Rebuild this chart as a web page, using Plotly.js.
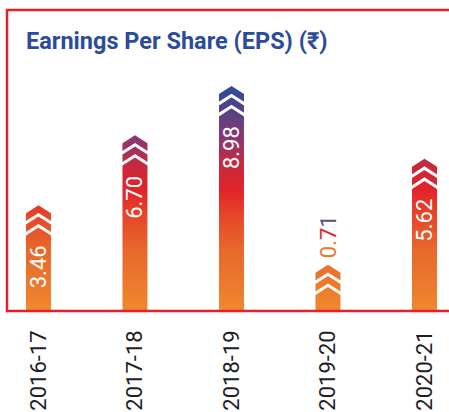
<!DOCTYPE html>
<html>
<head>
<meta charset="utf-8">
<script src="https://cdn.plot.ly/plotly-3.0.1.min.js"></script>
<style>
  html, body { margin: 0; padding: 0; background: #ffffff; }
  #chart { width: 449px; height: 412px; }
</style>
</head>
<body>
<div id="chart"></div>
<script>
// ---- data ----
const categories = ['2016-17', '2017-18', '2018-19', '2019-20', '2020-21'];
const eps = [3.46, 6.70, 8.98, 0.71, 5.62];
const valueLabels = ['3.46', '6.70', '8.98', '0.71', '5.62'];
const titleText = 'Earnings Per Share (EPS) (₹)';

// ---- geometry / style ----
const W = 449, H = 412;
const MARGIN = { l: 7, r: 0, t: 10, b: 101 };
const X_RANGE = [-0.326, 4.254];
const Y_RANGE = [0, 13.94];
const PLOT_W = W - MARGIN.l - MARGIN.r;
const PLOT_H = H - MARGIN.t - MARGIN.b;
const pxX = PLOT_W / (X_RANGE[1] - X_RANGE[0]);
const pxY = PLOT_H / (Y_RANGE[1] - Y_RANGE[0]);

const BAR_HALF_PX = 12.5;   // half bar width in px
const CAP_PX = 31;          // arrow cap height above bar body
const TIP_PX = 8;           // height of pointed tip
const STRIPES_PX = [21.5, 10.5]; // white chevron apex heights above body top
const STRIPE_W = 3;
const EXT_PX = 2;

const gradScale = [
  [0.000, '#EF8A2F'],
  [0.093, '#EC7C2D'],
  [0.270, '#E8682C'],
  [0.424, '#E5462A'],
  [0.535, '#E3232A'],
  [0.646, '#C72A3D'],
  [0.755, '#8F3570'],
  [0.845, '#64407F'],
  [1.000, '#2A4B9D']
];
const GRAD_STOP = 10.46;

// ---- build bar shapes (body + arrow cap) ----
const hw = BAR_HALF_PX / pxX;
const bx = [], by = [];
eps.forEach((v, i) => {
  const sh = v + (CAP_PX - TIP_PX) / pxY;
  const tip = v + CAP_PX / pxY;
  bx.push(i - hw, i - hw, i, i + hw, i + hw, i - hw, null);
  by.push(0, sh, tip, sh, 0, 0, null);
});

// ---- white chevron stripes ----
const slope = TIP_PX / BAR_HALF_PX;
const sx = [], sy = [];
eps.forEach((v, i) => {
  STRIPES_PX.forEach(a => {
    const half = BAR_HALF_PX + EXT_PX;
    const edge = a - slope * half;
    sx.push(i - half / pxX, i, i + half / pxX, null);
    sy.push(v + edge / pxY, v + a / pxY, v + edge / pxY, null);
  });
});

const traces = [
  {
    type: 'scatter', mode: 'lines', x: bx, y: by,
    fill: 'toself',
    fillgradient: { type: 'vertical', start: 0, stop: GRAD_STOP, colorscale: gradScale },
    line: { width: 0, color: 'rgba(0,0,0,0)' },
    hoverinfo: 'skip', showlegend: false
  },
  {
    type: 'scatter', mode: 'lines', x: sx, y: sy,
    line: { width: STRIPE_W, color: '#ffffff' },
    connectgaps: false,
    hoverinfo: 'skip', showlegend: false
  }
];

// ---- value labels ----
const annotations = [];
eps.forEach((v, i) => {
  if (v * pxY >= 60) {
    annotations.push({
      x: i, y: v, xref: 'x', yref: 'y',
      text: valueLabels[i], textangle: -90, showarrow: false,
      yanchor: 'top', xanchor: 'center', yshift: -7,
      font: { family: 'Roboto', size: 22, color: '#ffffff' }
    });
  } else {
    const s = valueLabels[i];
    const txt = '<span style="color:#E8782C">' + s.slice(0, 2) + '</span>' +
                '<span style="color:#E2262B">' + s.slice(2, 3) + '</span>' +
                '<span style="color:#5E4A91">' + s.slice(3) + '</span>';
    annotations.push({
      x: i, y: v + CAP_PX / pxY, xref: 'x', yref: 'y',
      text: txt, textangle: -90, showarrow: false,
      yanchor: 'bottom', xanchor: 'center', yshift: 5,
      font: { family: 'Roboto', size: 22, color: '#E8782C' }
    });
  }
});

const layout = {
  width: W, height: H,
  margin: MARGIN,
  paper_bgcolor: '#ffffff', plot_bgcolor: '#ffffff',
  showlegend: false,
  title: {
    text: titleText,
    font: { family: 'Roboto', size: 23.5, color: '#2B4C9A', weight: 700 },
    x: 26 / W, xanchor: 'left', xref: 'container',
    y: 1 - 33 / H, yanchor: 'top', yref: 'container'
  },
  xaxis: {
    range: X_RANGE, tickvals: categories.map((c, i) => i), ticktext: categories,
    tickangle: -90, ticks: '', showgrid: false, zeroline: false, showline: false,
    tickfont: { family: 'Roboto', size: 22, color: '#1E1E1E' },
    ticklabelstandoff: 14, fixedrange: true, automargin: false
  },
  yaxis: {
    range: Y_RANGE, visible: false, showgrid: false, zeroline: false, fixedrange: true
  },
  shapes: [{
    type: 'rect', xref: 'paper', yref: 'paper', x0: 0, x1: 1.1, y0: 0, y1: 1,
    line: { color: '#E5202A', width: 2.5 }, fillcolor: 'rgba(0,0,0,0)', layer: 'above'
  }],
  annotations: annotations
};

Plotly.newPlot('chart', traces, layout, { staticPlot: true, displayModeBar: false });
</script>
</body>
</html>
